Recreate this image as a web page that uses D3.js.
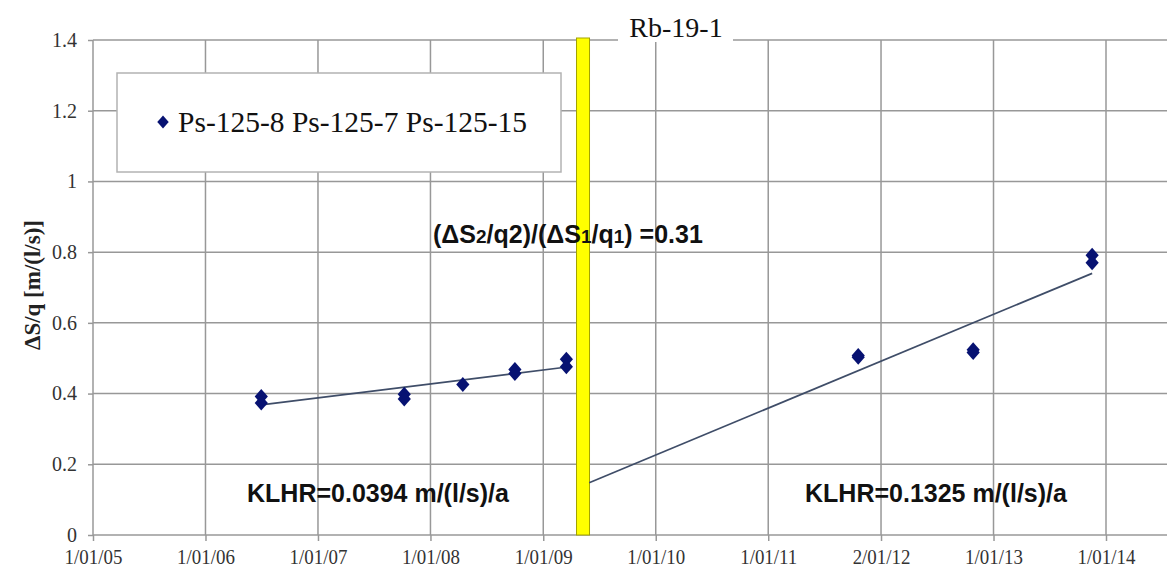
<!DOCTYPE html>
<html>
<head>
<meta charset="utf-8">
<script src="https://cdn.jsdelivr.net/npm/d3@7"></script>
<style>
  body { margin: 0; background: #fff; }
  svg { display: block; }
</style>
</head>
<body>
<svg id="chart" width="1167" height="570"></svg>
<script>
// Axis ticks
const tickDates = ["2005-01-01", "2006-01-01", "2007-01-01", "2008-01-01", "2009-01-01",
                   "2010-01-01", "2011-01-01", "2012-01-02", "2013-01-01", "2014-01-01"];
const tickLabels = ["1/01/05", "1/01/06", "1/01/07", "1/01/08", "1/01/09",
                    "1/01/10", "1/01/11", "2/01/12", "1/01/13", "1/01/14"];
const yTicks = [0, 0.2, 0.4, 0.6, 0.8, 1, 1.2, 1.4];

// Measured specific drawdown, ΔS/q [m/(l/s)]
const seriesName = "Ps-125-8 Ps-125-7 Ps-125-15";
const sampleDates = ["2006-07-01", "2006-07-01", "2007-10-08", "2007-10-08", "2008-04-15",
                     "2008-10-01", "2008-10-01", "2009-03-17", "2009-03-17",
                     "2011-10-20", "2011-10-20", "2012-10-27", "2012-10-27",
                     "2013-11-17", "2013-11-17"];
const sampleValues = [0.392, 0.373, 0.398, 0.385, 0.426,
                      0.468, 0.457, 0.497, 0.476,
                      0.508, 0.503, 0.524, 0.516,
                      0.791, 0.770];

// Linear trends before / after the commissioning of Rb-19-1
const trendStartDates = ["2006-07-01", "2009-05-30"];
const trendEndDates = ["2009-03-20", "2013-11-17"];
const trendStartValues = [0.368, 0.148];
const trendSlopes = [0.0394, 0.1325];   // m/(l/s) per year
const trendLabels = ["KLHR=0.0394 m/(l/s)/a", "KLHR=0.1325 m/(l/s)/a"];

// Well Rb-19-1 commissioning
const wellDate = "2009-05-10";
const wellName = "Rb-19-1";

const parse = d3.timeParse("%Y-%m-%d");
const svg = d3.select("#chart");

const plotLeft = 93, plotRight = 1167, plotTop = 40, plotBottom = 535;
const x = d3.scaleTime()
  .domain([parse(tickDates[0]), parse(tickDates[tickDates.length - 1])])
  .range([93, 1106]);
const y = d3.scaleLinear().domain([0, 1.4]).range([plotBottom, plotTop]);

const gridColor = "#989898";
const serif = "'Liberation Serif', 'Times New Roman', serif";
const sans = "'Liberation Sans', Arial, sans-serif";

// Gridlines
svg.append("g").selectAll("line").data(yTicks).join("line")
  .attr("x1", plotLeft).attr("x2", plotRight)
  .attr("y1", d => y(d)).attr("y2", d => y(d))
  .attr("stroke", gridColor).attr("stroke-width", 1.5);
svg.append("g").selectAll("line").data(tickDates.slice(1)).join("line")
  .attr("x1", d => x(parse(d))).attr("x2", d => x(parse(d)))
  .attr("y1", plotTop).attr("y2", plotBottom)
  .attr("stroke", gridColor).attr("stroke-width", 1.5);

// Axes
const yAxis = svg.append("g")
  .attr("transform", `translate(${plotLeft},0)`)
  .call(d3.axisLeft(y).tickValues(yTicks).tickSize(5).tickPadding(11).tickFormat(d => String(d)));
const xAxis = svg.append("g")
  .attr("transform", `translate(0,${plotBottom})`)
  .call(d3.axisBottom(x).tickValues(tickDates.map(parse)).tickSize(6).tickPadding(7)
    .tickFormat((d, i) => tickLabels[i]));
[yAxis, xAxis].forEach(g => {
  g.select(".domain").remove();
  g.selectAll(".tick line").attr("stroke", gridColor).attr("stroke-width", 1.5);
  g.selectAll(".tick text").attr("fill", "#333").style("font-family", serif);
});
yAxis.selectAll(".tick text").style("font-size", "20px");
xAxis.selectAll(".tick text").style("font-size", "22px").attr("transform", "scale(0.86,1)");
svg.append("line").attr("x1", plotLeft).attr("x2", plotLeft).attr("y1", plotTop).attr("y2", plotBottom)
  .attr("stroke", gridColor).attr("stroke-width", 1.5);

// Y axis title
svg.append("text")
  .attr("transform", "translate(40,285) rotate(-90)")
  .attr("text-anchor", "middle")
  .style("font-family", serif).style("font-weight", "bold").style("font-size", "23px")
  .attr("fill", "#222")
  .text("ΔS/q [m/(l/s)]");

// Legend
const legend = svg.append("g");
legend.append("rect").attr("x", 117).attr("y", 73).attr("width", 444).attr("height", 99)
  .attr("fill", "#fff").attr("stroke", "#b3b3b3").attr("stroke-width", 1.5);

// Diamond marker
const diamond = {
  draw(ctx, size) {
    const h = Math.sqrt(size) / 2, w = h * 0.88;
    ctx.moveTo(0, -h); ctx.lineTo(w, 0); ctx.lineTo(0, h); ctx.lineTo(-w, 0); ctx.closePath();
  }
};
const markColor = "#071272";
const sym = d3.symbol().type(diamond).size(225);

legend.append("path").attr("d", d3.symbol().type(diamond).size(169))
  .attr("transform", "translate(163,122)").attr("fill", markColor);
legend.append("text").attr("x", 178).attr("y", 132)
  .style("font-family", serif).style("font-size", "29.5px").attr("fill", "#111")
  .text(seriesName);

// Commissioning marker bar
const wx = x(parse(wellDate));
svg.append("rect").attr("x", wx - 6.5).attr("y", 38).attr("width", 13).attr("height", plotBottom - 38)
  .attr("fill", "#ffff00").attr("stroke", "#a3a300").attr("stroke-width", 1);

// Title with white backing
const title = svg.append("g");
title.append("rect").attr("x", 618).attr("y", 10).attr("width", 115).attr("height", 32).attr("fill", "#fff");
title.append("text").attr("x", 676).attr("y", 37).attr("text-anchor", "middle")
  .style("font-family", serif).style("font-size", "28px").attr("fill", "#111")
  .text(wellName);

// Trend lines
const yearMs = 365.25 * 24 * 3600 * 1000;
const trends = trendStartDates.map((s, i) => {
  const d0 = parse(s), d1 = parse(trendEndDates[i]);
  const v1 = trendStartValues[i] + trendSlopes[i] * (d1 - d0) / yearMs;
  return [[d0, trendStartValues[i]], [d1, v1]];
});
svg.append("g").selectAll("path").data(trends).join("path")
  .attr("d", d3.line().x(d => x(d[0])).y(d => y(d[1])))
  .attr("fill", "none").attr("stroke", "#3f4d68").attr("stroke-width", 1.7);

// Data points
svg.append("g").selectAll("path").data(sampleDates.map((d, i) => [parse(d), sampleValues[i]])).join("path")
  .attr("d", sym)
  .attr("transform", d => `translate(${x(d[0])},${y(d[1])})`)
  .attr("fill", markColor);

// Annotations
const ratio = svg.append("text").attr("x", 433).attr("y", 243)
  .style("font-family", sans).style("font-weight", "bold").style("font-size", "25px").attr("fill", "#111");
ratio.append("tspan").text("(ΔS");
ratio.append("tspan").style("font-size", "19px").text("2");
ratio.append("tspan").text("/q2)/(ΔS");
ratio.append("tspan").style("font-size", "19px").text("1");
ratio.append("tspan").text("/q");
ratio.append("tspan").style("font-size", "19px").text("1");
ratio.append("tspan").text(") =0.31");

svg.append("g").selectAll("text").data(trendLabels).join("text")
  .attr("x", (d, i) => [247, 805][i]).attr("y", 502)
  .style("font-family", sans).style("font-weight", "bold").style("font-size", "25px").attr("fill", "#111")
  .text(d => d);
</script>
</body>
</html>
